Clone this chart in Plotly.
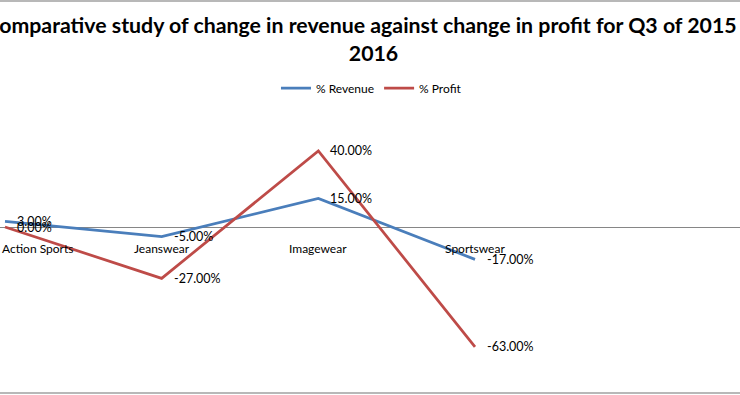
import plotly.graph_objects as go

categories = ["Action Sports", "Jeanswear", "Imagewear", "Sportswear"]
revenue_pct = [3, -5, 15, -17]
profit_pct = [0, -27, 40, -63]
series_names = ["% Revenue", "% Profit"]
title_text = "Comparative study of change in revenue against change in profit for Q3 of 2015 vs<br>2016"

BLUE = "#4A7EBB"
RED = "#BE4B48"
FONT = "Lato"

fig = go.Figure()
fig.add_trace(go.Scatter(x=categories, y=revenue_pct, mode="lines", name=series_names[0],
                         line=dict(color=BLUE, width=2.75)))
fig.add_trace(go.Scatter(x=categories, y=profit_pct, mode="lines", name=series_names[1],
                         line=dict(color=RED, width=2.75)))

annotations = []
for vals in (revenue_pct, profit_pct):
    for c, v in zip(categories, vals):
        annotations.append(dict(x=c, y=v, xref="x", yref="y", text=f"{v:.2f}%",
                                showarrow=False, xanchor="left", yanchor="middle",
                                xshift=10, font=dict(family=FONT, size=12.5, color="#000")))
for i, c in enumerate(categories):
    annotations.append(dict(x=c, y=0, xref="x", yref="y", text=c, showarrow=False,
                            xanchor="left" if i == 0 else "center", yanchor="middle",
                            xshift=-5 if i == 0 else 0, yshift=-21,
                            font=dict(family=FONT, size=12, color="#000")))

fig.update_layout(
    width=740, height=395,
    margin=dict(l=0, r=0, t=110, b=5),
    paper_bgcolor="white", plot_bgcolor="white",
    title=dict(text=title_text, x=373.5/740, xanchor="center", xref="container",
               y=1 - 33/395, yanchor="top",
               font=dict(family=FONT, size=21.3, color="#000", weight="bold")),
    showlegend=True,
    legend=dict(orientation="h", x=0.502, xanchor="center", y=(390-88)/280, yanchor="middle",
                font=dict(family=FONT, size=12, color="#000"), bgcolor="rgba(0,0,0,0)"),
    xaxis=dict(type="category", range=[-5/156.67, 3 + 265/156.67], showgrid=False,
               showticklabels=False, ticks="", zeroline=False, showline=False),
    yaxis=dict(range=[-163/1.903, 117/1.903], showgrid=False, showticklabels=False,
               ticks="", zeroline=True, zerolinecolor="#868686", zerolinewidth=1, showline=False),
    annotations=annotations,
    shapes=[
        dict(type="line", xref="paper", yref="paper", x0=-0.01, x1=1.01,
             y0=(390-1)/280, y1=(390-1)/280, line=dict(color="#A0A0A0", width=1.5)),
        dict(type="line", xref="paper", yref="paper", x0=-0.01, x1=1.01,
             y0=(390-393)/280, y1=(390-393)/280, line=dict(color="#A0A0A0", width=1.5)),
    ],
)

fig.write_html("out.html", config={"displayModeBar": False},
               post_script="document.body.style.margin='0';")
